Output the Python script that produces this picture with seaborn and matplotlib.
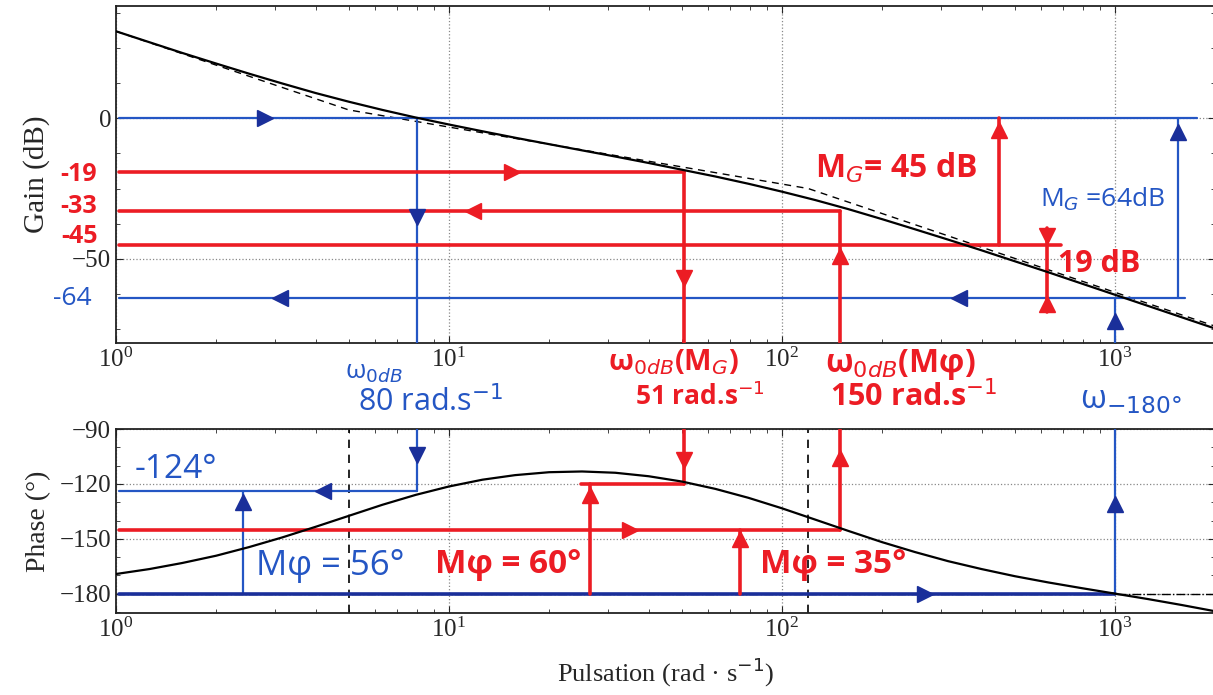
import matplotlib
matplotlib.use("Agg")
import matplotlib.pyplot as plt
from matplotlib.ticker import AutoMinorLocator, FixedLocator, LogLocator, NullFormatter
import pandas as pd
import seaborn as sns

# Bode data (pulsation in rad/s)
freq = [1, 1.26, 1.58, 2, 2.51, 3.16, 3.98, 5.01, 6.31, 7.94,
        10, 12.6, 15.8, 20, 25.1, 31.6, 39.8, 50.1, 63.1, 79.4,
        100, 126, 158, 200, 251, 316, 398, 501, 631, 794,
        1000, 1259, 1585, 1995]
gain_db = [31.0, 27.1, 23.3, 19.5, 15.9, 12.4, 9.0, 5.9, 3.0, 0.3,
           -2.2, -4.6, -6.9, -9.2, -11.4, -13.6, -15.9, -18.3, -20.7, -23.3,
           -26.1, -29.1, -32.3, -35.9, -39.5, -43.2, -47.0, -50.9, -54.8, -58.8,
           -62.8, -66.8, -70.8, -74.8]
phase_deg = [-169.2, -166.5, -163.2, -159.2, -154.5, -149.2, -143.4, -137.4, -131.4, -126.0,
             -121.4, -117.7, -115.2, -113.6, -113.2, -113.9, -115.8, -118.7, -122.7, -127.6,
             -133.3, -139.5, -145.6, -151.8, -157.2, -162.2, -166.5, -170.4, -173.8, -176.9,
             -179.9, -182.9, -186.1, -189.5]

# asymptotic gain (dashed)
asym_freq = [1, 5, 120, 2000]
asym_gain = [31.0, 3.0, -25.0, -74.0]

# corner pulsations marked on phase plot
corner_freq = [5, 120]

# hand-drawn construction lines
# horizontal: (x_start, x_end, y)   vertical: (x, y_start, y_end)
gain_blue_h = [(1.02, 1760, 0), (1.02, 1620, -64)]
gain_blue_v = [(8, 0, -80), (1550, -64, 0), (1000, -80, -64)]
gain_red_h = [(1.02, 51, -19), (1.02, 150, -33), (1.02, 690, -45)]
gain_red_v = [(51, -19, -80), (150, -80, -33), (450, -45, 0), (625, -39, -69)]
gain_blue_arrows = [(2.8, 0, '>'), (3.1, -64, '<'), (340, -64, '<'),
                    (8, -35, 'v'), (1550, -5, '^'), (1000, -72, '^')]
gain_red_arrows = [(15.5, -19, '>'), (11.8, -33, '<'), (51, -57, 'v'),
                   (150, -49, '^'), (450, -4, '^'), (625, -42, 'v'), (625, -66, '^')]

phase_blue_h = [(1.02, 8, -124)]
phase_dark_h = [(1.02, 1000, -180)]
phase_blue_v = [(8, -90, -124), (2.4, -180, -124), (1000, -180, -90)]
phase_red_h = [(1.02, 150, -145), (25, 51, -120)]
phase_red_v = [(26.5, -180, -120), (51, -90, -120), (75, -180, -145), (150, -145, -90)]
phase_blue_arrows = [(4.2, -124, '<'), (8, -104, 'v'), (2.4, -130, '^'),
                     (270, -180, '>'), (1000, -131, '^')]
phase_red_arrows = [(35, -145, '>'), (26.5, -126, '^'), (51, -107, 'v'),
                    (75, -150, '^'), (150, -106, '^')]

# hand-written values next to the gain axis: (text, y)
gain_labels_red = [('-19', -20), ('-33', -31.5), ('-45', -42)]
gain_labels_blue = [('-64', -64)]

RED = '#ec1c24'
BLUE = '#2456c4'
DARK = '#1a2f9a'
HAND = ['Open Sans', 'DejaVu Sans']

sns.set_style("ticks")
plt.rcParams['font.family'] = ['Liberation Serif', 'DejaVu Serif']

df = pd.DataFrame({'freq': freq, 'gain': gain_db, 'phase': phase_deg})
asym = pd.DataFrame({'freq': asym_freq, 'gain': asym_gain})

W, H = 1213, 695
fig = plt.figure(figsize=(W / 100, H / 100), dpi=100)
left = 116 / W
width = 1099 / W
ax1 = fig.add_axes([left, 1 - 343 / H, width, 337 / H])
ax2 = fig.add_axes([left, 1 - 613 / H, width, 184 / H])


def draw_lines(ax, hs, vs, color, lw):
    for x0, x1, y in hs:
        ax.plot([x0, x1], [y, y], color=color, lw=lw, solid_capstyle='round', zorder=3)
    for x, y0, y1 in vs:
        ax.plot([x, x], [y0, y1], color=color, lw=lw, solid_capstyle='round', zorder=3)


def draw_arrows(ax, arrows, color):
    for x, y, m in arrows:
        ax.plot([x], [y], marker=m, ms=11, color=color, mec=color, zorder=4)


# ---- gain ----
sns.lineplot(data=asym, x='freq', y='gain', ax=ax1, color='black', lw=1, ls=(0, (5, 4)), zorder=2)
sns.lineplot(data=df, x='freq', y='gain', ax=ax1, color='black', lw=1.6, zorder=5)
draw_lines(ax1, gain_blue_h, gain_blue_v, BLUE, 1.6)
draw_lines(ax1, gain_red_h, gain_red_v, RED, 2.6)
draw_arrows(ax1, gain_blue_arrows, DARK)
draw_arrows(ax1, gain_red_arrows, RED)

ax1.text(126, -18, 'M$_G$= 45 dB', color=RED, fontsize=23, family=HAND,
         fontweight='bold', va='center')
ax1.text(596, -28.7, 'M$_G$ =64dB', color=BLUE, fontsize=19, family=HAND, va='center')
ax1.text(675, -52, '19 dB', color=RED, fontsize=22, family=HAND, fontweight='bold', va='center')

ytr = ax1.get_yaxis_transform()
for t, v in gain_labels_red:
    ax1.text(-0.017, v, t, color=RED, fontsize=18, family=HAND, fontweight='bold',
             ha='right', va='center', transform=ytr)
for t, v in gain_labels_blue:
    ax1.text(-0.022, v, t, color=BLUE, fontsize=19, family=HAND,
             ha='right', va='center', transform=ytr)

ax1.set_ylim(-80, 40)
ax1.yaxis.set_major_locator(FixedLocator([-50, 0]))
ax1.yaxis.set_minor_locator(AutoMinorLocator(4))
ax1.set_ylabel('Gain (dB)', fontsize=21, labelpad=16)

# ---- phase ----
ax2.axhline(-180, color='black', lw=1, ls='-.', zorder=2)
for c in corner_freq:
    ax2.axvline(c, color='black', lw=1.2, ls=(0, (5, 4)), zorder=2)
sns.lineplot(data=df, x='freq', y='phase', ax=ax2, color='black', lw=1.6, zorder=5)
draw_lines(ax2, phase_blue_h, phase_blue_v, BLUE, 1.6)
draw_lines(ax2, phase_dark_h, [], DARK, 2.6)
draw_lines(ax2, phase_red_h, phase_red_v, RED, 2.6)
draw_arrows(ax2, phase_blue_arrows, DARK)
draw_arrows(ax2, phase_red_arrows, RED)

ax2.text(1.14, -112, '-124°', color=BLUE, fontsize=24, family=HAND, va='center')
ax2.text(2.63, -165, 'Mφ = 56°', color=BLUE, fontsize=25, family=HAND, va='center')
ax2.text(9.1, -164, 'Mφ = 60°', color=RED, fontsize=24, family=HAND, fontweight='bold', va='center')
ax2.text(86, -164, 'Mφ = 35°', color=RED, fontsize=24, family=HAND, fontweight='bold', va='center')

ax2.set_ylim(-190.5, -90)
ax2.yaxis.set_major_locator(FixedLocator([-180, -150, -120, -90]))
ax2.yaxis.set_minor_locator(AutoMinorLocator(3))
ax2.set_ylabel('Phase (°)', fontsize=20, labelpad=6)
ax2.set_xlabel('Pulsation (rad · s$^{-1}$)', fontsize=19, labelpad=10)

for ax in (ax1, ax2):
    ax.set_xscale('log')
    ax.set_xlim(1, 2000)
    ax.xaxis.set_major_locator(LogLocator(base=10))
    ax.xaxis.set_minor_locator(LogLocator(base=10, subs=range(2, 10)))
    ax.xaxis.set_minor_formatter(NullFormatter())
    if ax is ax1:
        ax.set_xlabel('')
    ax.grid(True, which='major', color='#888888', ls=':', lw=0.9)
    ax.tick_params(which='both', direction='in', top=True, right=True, labelsize=18)
    ax.tick_params(which='major', length=5)
    ax.tick_params(which='minor', length=3)
    for s in ax.spines.values():
        s.set_linewidth(1.3)
        s.set_color('#222222')

# hand-written notes between the two plots
fig.text(345 / W, 1 - 372 / H, 'ω$_{0dB}$', color=BLUE, fontsize=19, family=HAND, va='center')
fig.text(358 / W, 1 - 402 / H, '80 rad.s$^{-1}$', color=BLUE, fontsize=22, family=HAND, va='center')
fig.text(608 / W, 1 - 362 / H, 'ω$_{0dB}$(M$_G$)', color=RED, fontsize=21, family=HAND,
         fontweight='bold', va='center')
fig.text(635 / W, 1 - 397 / H, '51 rad.s$^{-1}$', color=RED, fontsize=19, family=HAND,
         fontweight='bold', va='center')
fig.text(825 / W, 1 - 365 / H, 'ω$_{0dB}$(Mφ)', color=RED, fontsize=23, family=HAND,
         fontweight='bold', va='center')
fig.text(830 / W, 1 - 397 / H, '150 rad.s$^{-1}$', color=RED, fontsize=22, family=HAND,
         fontweight='bold', va='center')
fig.text(1080 / W, 1 - 400 / H, 'ω$_{-180°}$', color=BLUE, fontsize=24, family=HAND, va='center')

fig.savefig('out.png', dpi=100)
